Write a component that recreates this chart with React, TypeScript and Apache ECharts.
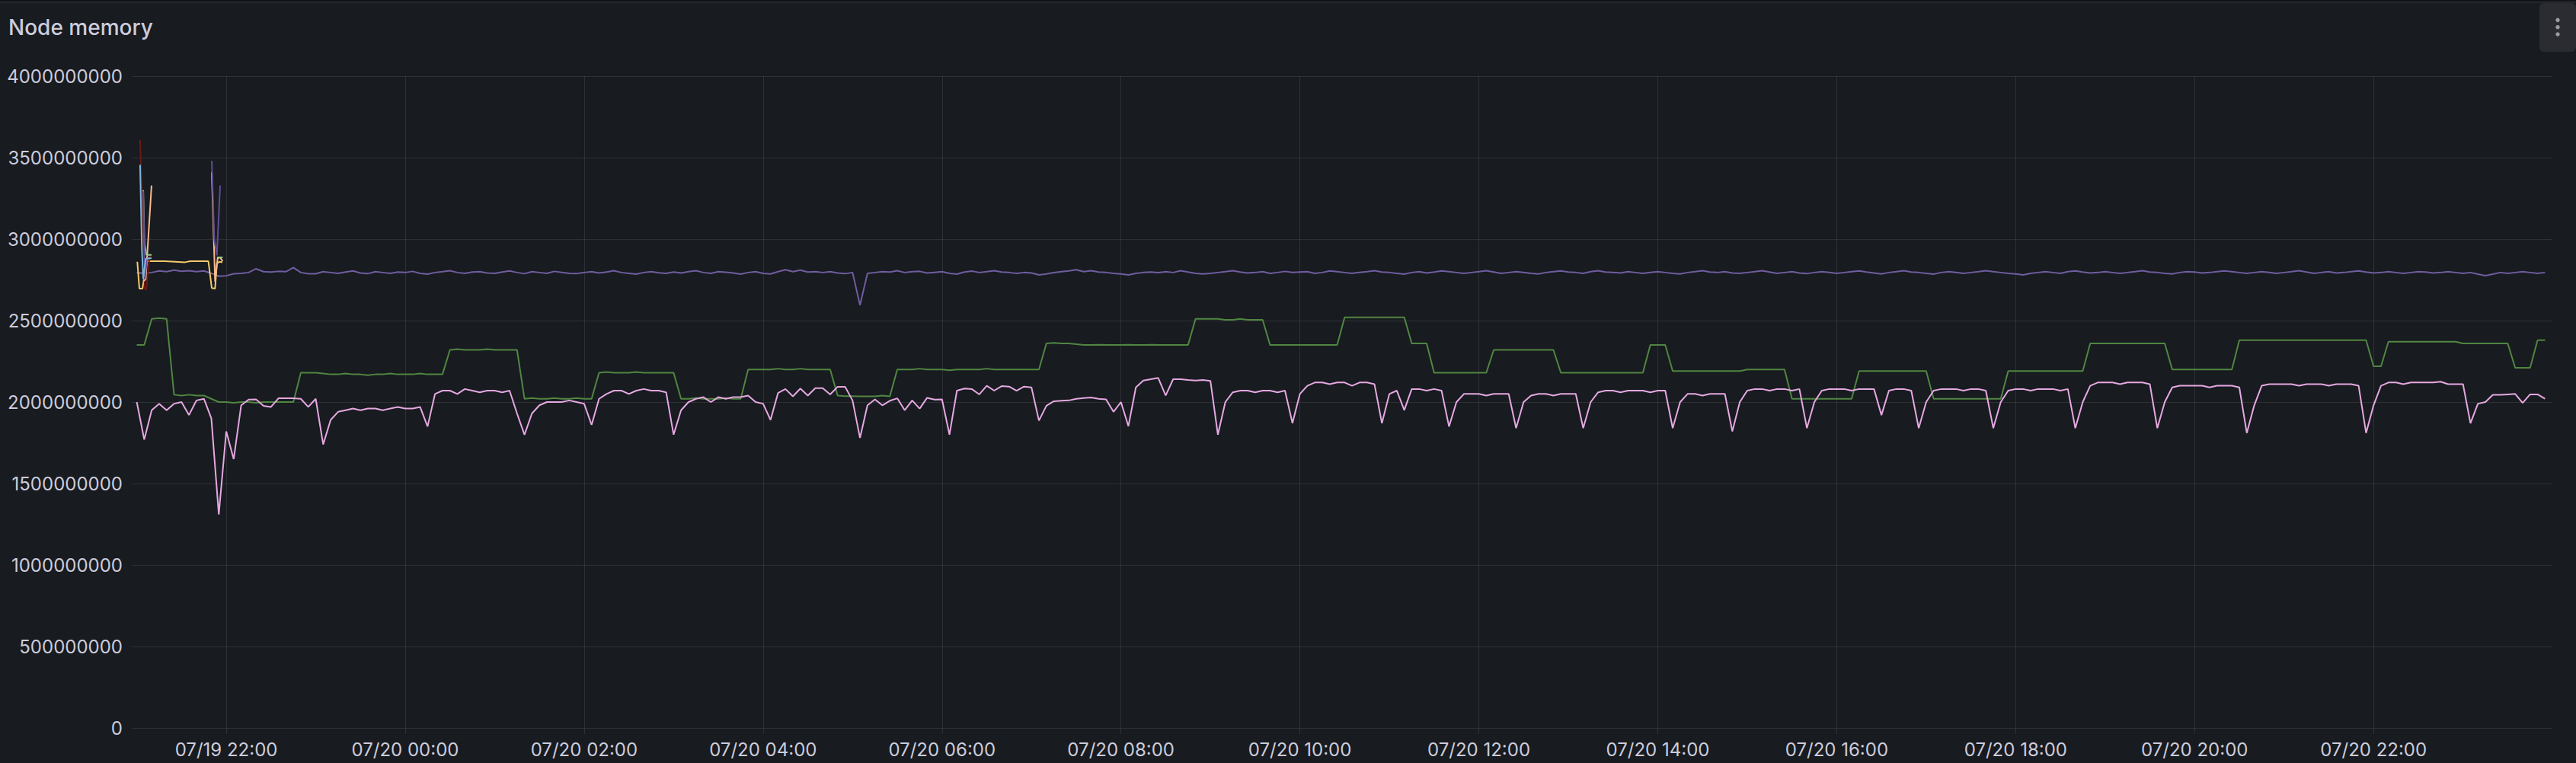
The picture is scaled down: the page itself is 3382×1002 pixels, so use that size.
import React, { useEffect, useRef } from "react";
import * as echarts from "echarts";

// x values are hours counted from 07/19 00:00
const X_MIN = 20.944;
const X_MAX = 47.999;
const START_HOUR = 21; // first sample: 07/19 21:00
const STEP_HOURS = 5 / 60; // one sample every 5 minutes

const TITLE = "Node memory";

const SERIES_NAMES = [
  "ip-10-42-1-87.ec2.internal",
  "ip-10-42-2-113.ec2.internal",
  "ip-10-42-3-54.ec2.internal",
  "ip-10-42-1-196.ec2.internal",
  "ip-10-42-2-25.ec2.internal",
  "ip-10-42-3-140.ec2.internal",
  "ip-10-42-1-31.ec2.internal",
  "ip-10-42-2-208.ec2.internal",
  "ip-10-42-3-77.ec2.internal",
];
const SERIES_COLORS = ["#705DA0", "#508642", "#E5A8E2", "#F2C96D", "#F9BA8F", "#82B5D8", "#6B1A14", "#9AC48A", "#614D93"];

// values in units of 1e9 bytes, one row per hour, 12 samples per row
const purpleRows = [
  [2.794, 2.79, 2.795, 2.805, 2.8, 2.81, 2.803, 2.806, 2.8, 2.805, 2.79, 2.772],
  [2.775, 2.787, 2.79, 2.795, 2.818, 2.8, 2.798, 2.802, 2.8, 2.825, 2.795, 2.787],
  [2.787, 2.8, 2.795, 2.79, 2.798, 2.805, 2.792, 2.788, 2.8, 2.795, 2.79, 2.798],
  [2.795, 2.802, 2.79, 2.785, 2.795, 2.8, 2.806, 2.795, 2.79, 2.798, 2.8, 2.792],
  [2.79, 2.798, 2.805, 2.795, 2.788, 2.8, 2.795, 2.79, 2.802, 2.796, 2.79, 2.788],
  [2.795, 2.8, 2.792, 2.798, 2.806, 2.795, 2.79, 2.785, 2.795, 2.8, 2.793, 2.79],
  [2.798, 2.792, 2.8, 2.806, 2.795, 2.79, 2.8, 2.797, 2.792, 2.785, 2.795, 2.8],
  [2.79, 2.786, 2.8, 2.812, 2.8, 2.81, 2.798, 2.8, 2.795, 2.8, 2.792, 2.788],
  [2.795, 2.595, 2.79, 2.795, 2.8, 2.798, 2.806, 2.795, 2.8, 2.802, 2.792, 2.796],
  [2.8, 2.79, 2.785, 2.798, 2.804, 2.795, 2.8, 2.806, 2.798, 2.795, 2.79, 2.795],
  [2.792, 2.78, 2.786, 2.794, 2.8, 2.805, 2.812, 2.8, 2.806, 2.798, 2.795, 2.79],
  [2.786, 2.78, 2.79, 2.795, 2.798, 2.794, 2.8, 2.795, 2.806, 2.798, 2.79, 2.786],
  [2.79, 2.795, 2.8, 2.806, 2.798, 2.792, 2.795, 2.8, 2.79, 2.795, 2.802, 2.796],
  [2.798, 2.8, 2.79, 2.795, 2.805, 2.8, 2.795, 2.79, 2.796, 2.8, 2.806, 2.798],
  [2.795, 2.79, 2.785, 2.795, 2.8, 2.792, 2.798, 2.805, 2.8, 2.795, 2.79, 2.795],
  [2.8, 2.806, 2.798, 2.79, 2.795, 2.8, 2.796, 2.79, 2.786, 2.795, 2.8, 2.805],
  [2.798, 2.795, 2.79, 2.8, 2.806, 2.798, 2.795, 2.792, 2.8, 2.795, 2.79, 2.796],
  [2.8, 2.795, 2.79, 2.786, 2.795, 2.8, 2.806, 2.798, 2.795, 2.8, 2.792, 2.79],
  [2.795, 2.8, 2.806, 2.798, 2.79, 2.795, 2.8, 2.792, 2.788, 2.795, 2.8, 2.796],
  [2.79, 2.795, 2.8, 2.805, 2.798, 2.792, 2.786, 2.795, 2.8, 2.806, 2.798, 2.795],
  [2.79, 2.785, 2.795, 2.8, 2.796, 2.79, 2.795, 2.8, 2.806, 2.8, 2.795, 2.79],
  [2.786, 2.78, 2.79, 2.795, 2.8, 2.795, 2.79, 2.8, 2.805, 2.798, 2.792, 2.795],
  [2.8, 2.795, 2.79, 2.795, 2.8, 2.806, 2.798, 2.795, 2.79, 2.786, 2.795, 2.8],
  [2.798, 2.792, 2.795, 2.8, 2.805, 2.8, 2.795, 2.79, 2.795, 2.8, 2.796, 2.79],
  [2.795, 2.8, 2.806, 2.798, 2.79, 2.795, 2.8, 2.792, 2.795, 2.8, 2.805, 2.798],
  [2.792, 2.795, 2.8, 2.795, 2.79, 2.795, 2.8, 2.798, 2.792, 2.795, 2.8, 2.795],
  [2.79, 2.795, 2.785, 2.776, 2.785, 2.795, 2.79, 2.795, 2.8, 2.795, 2.79, 2.795],
];

const greenRows = [
  [2.35, 2.35, 2.51, 2.515, 2.51, 2.045, 2.04, 2.045, 2.04, 2.04, 2.02, 2.0],
  [2.0, 1.995, 2.0, 2.0, 1.995, 2.0, 2.0, 2.0, 2.0, 2.0, 2.18, 2.18],
  [2.18, 2.175, 2.17, 2.17, 2.175, 2.17, 2.17, 2.165, 2.17, 2.17, 2.175, 2.17],
  [2.17, 2.17, 2.175, 2.17, 2.17, 2.17, 2.32, 2.325, 2.32, 2.32, 2.32, 2.325],
  [2.32, 2.32, 2.32, 2.32, 2.02, 2.025, 2.02, 2.02, 2.025, 2.02, 2.02, 2.025],
  [2.02, 2.02, 2.18, 2.185, 2.18, 2.18, 2.18, 2.185, 2.18, 2.18, 2.18, 2.18],
  [2.18, 2.02, 2.02, 2.025, 2.02, 2.02, 2.02, 2.025, 2.02, 2.02, 2.2, 2.2],
  [2.2, 2.2, 2.205, 2.2, 2.2, 2.205, 2.2, 2.2, 2.2, 2.2, 2.04, 2.036],
  [2.036, 2.035, 2.035, 2.035, 2.04, 2.035, 2.2, 2.2, 2.2, 2.205, 2.2, 2.2],
  [2.2, 2.195, 2.2, 2.2, 2.2, 2.2, 2.205, 2.2, 2.2, 2.2, 2.2, 2.2],
  [2.2, 2.2, 2.36, 2.363, 2.36, 2.36, 2.355, 2.35, 2.35, 2.352, 2.35, 2.35],
  [2.35, 2.352, 2.35, 2.35, 2.352, 2.35, 2.35, 2.35, 2.35, 2.35, 2.51, 2.51],
  [2.51, 2.51, 2.505, 2.505, 2.51, 2.505, 2.505, 2.505, 2.35, 2.35, 2.35, 2.35],
  [2.35, 2.35, 2.35, 2.35, 2.35, 2.35, 2.52, 2.52, 2.52, 2.52, 2.52, 2.52],
  [2.52, 2.52, 2.52, 2.36, 2.36, 2.36, 2.18, 2.18, 2.18, 2.18, 2.18, 2.18],
  [2.18, 2.18, 2.32, 2.32, 2.32, 2.32, 2.32, 2.32, 2.32, 2.32, 2.32, 2.18],
  [2.18, 2.18, 2.18, 2.18, 2.18, 2.18, 2.18, 2.18, 2.18, 2.18, 2.18, 2.35],
  [2.35, 2.35, 2.19, 2.19, 2.19, 2.19, 2.19, 2.19, 2.19, 2.19, 2.19, 2.19],
  [2.2, 2.2, 2.2, 2.2, 2.2, 2.2, 2.02, 2.02, 2.02, 2.02, 2.02, 2.02],
  [2.02, 2.02, 2.02, 2.19, 2.19, 2.19, 2.19, 2.19, 2.19, 2.19, 2.19, 2.19],
  [2.19, 2.02, 2.02, 2.02, 2.02, 2.02, 2.02, 2.02, 2.02, 2.02, 2.02, 2.19],
  [2.19, 2.19, 2.19, 2.19, 2.19, 2.19, 2.19, 2.19, 2.19, 2.19, 2.36, 2.36],
  [2.36, 2.36, 2.36, 2.36, 2.36, 2.36, 2.36, 2.36, 2.36, 2.2, 2.2, 2.2],
  [2.2, 2.2, 2.2, 2.2, 2.2, 2.2, 2.38, 2.38, 2.38, 2.38, 2.38, 2.38],
  [2.38, 2.38, 2.38, 2.38, 2.38, 2.38, 2.38, 2.38, 2.38, 2.38, 2.38, 2.38],
  [2.22, 2.22, 2.37, 2.37, 2.37, 2.37, 2.37, 2.37, 2.37, 2.37, 2.37, 2.37],
  [2.36, 2.36, 2.36, 2.36, 2.36, 2.36, 2.36, 2.21, 2.21, 2.21, 2.38, 2.38],
];

const pinkRows = [
  [2.0, 1.77, 1.95, 1.99, 1.95, 1.99, 2.0, 1.92, 2.01, 2.02, 1.9, 1.31],
  [1.82, 1.65, 1.98, 2.015, 2.016, 1.977, 1.97, 2.023, 2.023, 2.023, 2.02, 1.97],
  [2.02, 1.74, 1.89, 1.94, 1.95, 1.96, 1.95, 1.96, 1.96, 1.95, 1.96, 1.97],
  [1.96, 1.96, 1.97, 1.85, 2.05, 2.07, 2.07, 2.05, 2.08, 2.07, 2.06, 2.07],
  [2.07, 2.06, 2.07, 1.93, 1.8, 1.93, 1.98, 2.0, 2.0, 2.0, 2.01, 2.0],
  [1.99, 1.86, 2.02, 2.05, 2.07, 2.07, 2.05, 2.07, 2.08, 2.07, 2.07, 2.06],
  [1.8, 1.95, 2.0, 2.02, 2.03, 2.0, 2.03, 2.02, 2.03, 2.03, 2.04, 2.0],
  [1.99, 1.89, 2.055, 2.08, 2.035, 2.083, 2.04, 2.085, 2.085, 2.047, 2.094, 2.094],
  [2.01, 1.78, 1.98, 2.016, 1.98, 2.008, 2.023, 1.95, 2.01, 1.96, 2.026, 2.015],
  [2.016, 1.8, 2.07, 2.083, 2.08, 2.047, 2.1, 2.07, 2.098, 2.095, 2.07, 2.095],
  [2.09, 1.886, 1.977, 2.005, 2.008, 2.01, 2.02, 2.025, 2.028, 2.02, 2.016, 1.94],
  [2.0, 1.852, 2.09, 2.132, 2.14, 2.148, 2.04, 2.14, 2.14, 2.135, 2.132, 2.135],
  [2.13, 1.8, 2.0, 2.06, 2.07, 2.07, 2.06, 2.07, 2.07, 2.06, 2.07, 1.87],
  [2.05, 2.1, 2.12, 2.12, 2.11, 2.12, 2.12, 2.1, 2.12, 2.12, 2.11, 1.87],
  [2.05, 2.07, 1.95, 2.08, 2.08, 2.07, 2.08, 2.07, 1.85, 2.0, 2.05, 2.05],
  [2.05, 2.04, 2.05, 2.05, 2.05, 1.84, 2.0, 2.04, 2.05, 2.05, 2.04, 2.05],
  [2.05, 2.05, 1.84, 2.0, 2.06, 2.07, 2.07, 2.06, 2.07, 2.07, 2.07, 2.06],
  [2.07, 2.07, 1.84, 2.0, 2.05, 2.05, 2.04, 2.05, 2.05, 2.05, 1.82, 2.0],
  [2.07, 2.08, 2.08, 2.07, 2.08, 2.08, 2.07, 2.08, 1.84, 2.0, 2.07, 2.08],
  [2.08, 2.08, 2.07, 2.08, 2.08, 2.08, 1.92, 2.07, 2.08, 2.08, 2.07, 1.84],
  [2.0, 2.07, 2.08, 2.08, 2.08, 2.07, 2.08, 2.08, 2.07, 1.84, 2.0, 2.07],
  [2.08, 2.08, 2.07, 2.08, 2.08, 2.08, 2.07, 2.08, 1.84, 2.0, 2.1, 2.12],
  [2.12, 2.12, 2.11, 2.12, 2.12, 2.12, 2.11, 1.84, 2.0, 2.09, 2.1, 2.1],
  [2.1, 2.1, 2.09, 2.1, 2.1, 2.1, 2.09, 1.81, 1.98, 2.1, 2.11, 2.11],
  [2.11, 2.11, 2.1, 2.11, 2.11, 2.11, 2.1, 2.11, 2.11, 2.11, 2.1, 1.81],
  [1.98, 2.1, 2.12, 2.12, 2.11, 2.12, 2.12, 2.12, 2.12, 2.125, 2.11, 2.11],
  [2.11, 1.87, 1.99, 2.0, 2.044, 2.044, 2.047, 2.05, 1.995, 2.047, 2.047, 2.02],
];

// short-lived series around 21:00 - 22:00: [hour, value in 1e9]
const yellowPts = [[21.006, 2.861], [21.029, 2.696], [21.063, 2.696], [21.114, 2.864], [21.313, 2.864], [21.54, 2.858], [21.597, 2.864], [21.8, 2.864], [21.838, 2.7], [21.875, 2.696], [21.895, 2.85], [21.923, 2.861], [21.957, 2.857]];
const orangePtsA = [[21.072, 2.74], [21.1, 2.755], [21.165, 3.329]];
const orangePtsB = [[21.838, 3.41], [21.875, 2.74], [21.903, 2.88], [21.932, 2.888], [21.96, 2.864]];
const bluePts = [[21.037, 3.456], [21.057, 2.942], [21.072, 2.755], [21.1, 2.88], [21.165, 2.883]];
const darkRedPts = [[21.037, 3.609], [21.09, 2.693], [21.108, 2.693], [21.143, 2.896], [21.165, 2.896]];
const lightGreenPtsA = [[21.072, 3.3], [21.086, 2.973], [21.108, 2.903], [21.165, 2.903]];
const lightGreenPtsB = [[21.895, 2.888], [21.96, 2.888]];
const violetPtsA = [[21.072, 3.293], [21.091, 2.755], [21.114, 2.88], [21.165, 2.883]];
const violetPtsB = [[21.838, 3.48], [21.866, 3.0], [21.895, 2.9], [21.932, 3.329]];

const GB = 1e9;
const FONT = "Inter, 'Noto Sans', sans-serif";
const TEXT = "#ccccdc";
const GRID_LINE = "rgba(204, 204, 220, 0.12)";

function fromRows(rows: number[][]) {
  return rows.flat().map((v, i) => [START_HOUR + i * STEP_HOURS, v * GB]);
}
function fromPts(pts: number[][]) {
  return pts.map(([h, v]) => [h, v * GB]);
}

function lineSeries(idx: number, data: number[][], z: number) {
  return {
    type: "line",
    name: SERIES_NAMES[idx],
    data,
    showSymbol: false,
    symbol: "none",
    z,
    lineStyle: { width: 2, color: SERIES_COLORS[idx] },
    itemStyle: { color: SERIES_COLORS[idx] },
    emphasis: { disabled: true },
  };
}

function formatTime(v: number) {
  const r = Math.round(v);
  const day = 19 + Math.floor(r / 24);
  const hh = r % 24;
  return `07/${day} ${String(hh).padStart(2, "0")}:00`;
}

export default function App() {
  const ref = useRef<HTMLDivElement>(null);
  useEffect(() => {
    const chart = echarts.init(ref.current!, null, { renderer: "svg" });
    const option = {
      animation: false,
      backgroundColor: "#181b1f",
      textStyle: { fontFamily: FONT },
      title: {
        text: TITLE,
        left: 11,
        top: 22,
        padding: 0,
        textStyle: { color: TEXT, fontSize: 28, fontWeight: 500, fontFamily: FONT },
      },
      grid: { left: 173, right: 31, top: 100, bottom: 38, containLabel: false },
      xAxis: {
        type: "value",
        min: X_MIN,
        max: X_MAX,
        minInterval: 2,
        maxInterval: 2,
        axisLine: { show: false },
        axisTick: { show: false },
        splitLine: { show: true, showMinLine: false, showMaxLine: false, lineStyle: { color: GRID_LINE, width: 1 } },
        axisLabel: {
          color: TEXT,
          fontSize: 24,
          fontFamily: FONT,
          margin: 8,
          showMinLabel: false,
          showMaxLabel: false,
          formatter: formatTime,
        },
      },
      yAxis: {
        type: "value",
        min: -37383178,
        max: 4000000000,
        minInterval: 500000000,
        maxInterval: 500000000,
        axisLine: { show: false },
        axisTick: { show: false },
        splitLine: { show: true, showMinLine: false, lineStyle: { color: GRID_LINE, width: 1 } },
        axisLabel: {
          color: TEXT,
          fontSize: 24,
          fontFamily: FONT,
          margin: 12,
          showMinLabel: false,
          formatter: (v: number) => String(Math.round(Math.abs(v) < 1 ? 0 : v)),
        },
      },
      series: [
        lineSeries(1, fromRows(greenRows), 2),
        lineSeries(2, fromRows(pinkRows), 3),
        lineSeries(0, fromRows(purpleRows), 4),
        lineSeries(3, fromPts(yellowPts), 5),
        lineSeries(4, fromPts(orangePtsA), 6),
        lineSeries(4, fromPts(orangePtsB), 6),
        lineSeries(5, fromPts(bluePts), 7),
        lineSeries(6, fromPts(darkRedPts), 5),
        lineSeries(7, fromPts(lightGreenPtsA), 6),
        lineSeries(7, fromPts(lightGreenPtsB), 6),
        lineSeries(8, fromPts(violetPtsA), 6),
        lineSeries(8, fromPts(violetPtsB), 6),
      ],
      graphic: [
        { type: "rect", silent: true, shape: { x: 0, y: 0, width: 3382, height: 2 }, style: { fill: "#111217" } },
        { type: "rect", silent: true, shape: { x: 0, y: 2, width: 3382, height: 1.5 }, style: { fill: "#2c2e33" } },
        { type: "rect", silent: true, shape: { x: 3334, y: 4, width: 48, height: 64, r: 6 }, style: { fill: "#2a2c31" } },
        { type: "circle", silent: true, shape: { cx: 3358, cy: 26.3, r: 2.7 }, style: { fill: "#9a9ba3" } },
        { type: "circle", silent: true, shape: { cx: 3358, cy: 35.7, r: 2.7 }, style: { fill: "#9a9ba3" } },
        { type: "circle", silent: true, shape: { cx: 3358, cy: 45, r: 2.7 }, style: { fill: "#9a9ba3" } },
      ],
    };
    chart.setOption(option as any);
    return () => chart.dispose();
  }, []);
  return (
    <div
      ref={ref}
      style={{ position: "fixed", left: 0, top: 0, width: 3382, height: 1002, background: "#181b1f" }}
    />
  );
}
